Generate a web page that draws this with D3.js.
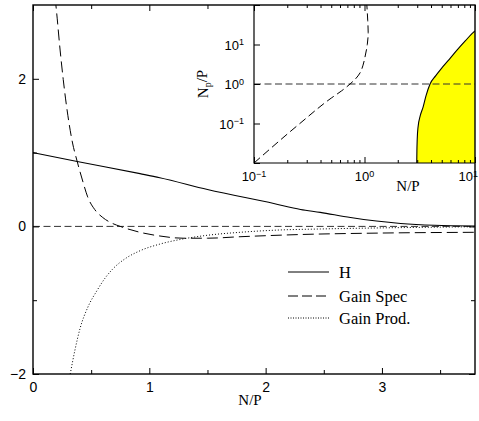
<!DOCTYPE html>
<html><head><meta charset="utf-8">
<script src="https://cdn.jsdelivr.net/npm/d3@7"></script>
<style>
html,body{margin:0;padding:0;background:#fff;}
svg{display:block;}
</style></head>
<body>
<script>
// ---------- data ----------
const mainXTicks = [0, 1, 2, 3];
const mainXMinor = [0.5, 1.5, 2.5, 3.5];
const mainYTicks = [-2, 0, 2];
const mainYTickLabels = ["\u22122", "0", "2"];
const mainYMinor = [-1, 1];

const hX = [0, 0.38, 0.92, 1.09, 1.5, 2.07, 2.3, 2.47, 2.73, 3.16, 3.45, 3.8];
const hY = [1.0, 0.88, 0.715, 0.66, 0.50, 0.31, 0.23, 0.19, 0.12, 0.04, 0.015, 0.005];

const specX = [0.19, 0.2, 0.233, 0.26, 0.3, 0.34, 0.38, 0.43, 0.47, 0.53, 0.6, 0.67, 0.75, 0.92, 1.09, 1.29, 1.5, 1.78, 2.3, 3.0, 3.8];
const specY = [3.1, 2.95, 2.39, 1.99, 1.5, 1.13, 0.88, 0.6, 0.4, 0.23, 0.12, 0.05, 0.0, -0.08, -0.13, -0.16, -0.16, -0.14, -0.11, -0.09, -0.08];

const prodX = [0.32, 0.36, 0.405, 0.47, 0.55, 0.62, 0.69, 0.8, 0.92, 1.09, 1.29, 1.5, 1.78, 2.1, 2.47, 3.0, 3.5, 3.8];
const prodY = [-2.0, -1.68, -1.38, -1.1, -0.87, -0.70, -0.57, -0.43, -0.33, -0.24, -0.17, -0.12, -0.08, -0.05, -0.035, -0.02, -0.01, -0.005];

const legendLabels = ["H", "Gain Spec", "Gain Prod."];

// inset (log-log)
const insetXTicks = [0.1, 1, 10];
const insetXTickExp = ["\u22121", "0", "1"];
const insetXMinor = [0.2,0.3,0.4,0.5,0.6,0.7,0.8,0.9,2,3,4,5,6,7,8,9];
const insetYTicks = [0.1, 1, 10];
const insetYTickExp = ["\u22121", "0", "1"];
const insetYMajorAll = [0.01, 0.1, 1, 10, 100];

const inSpecX = [0.1, 0.26, 0.5, 0.62, 0.74, 0.83, 0.91, 0.97, 1.01, 1.06, 1.08, 1.07, 1.05];
const inSpecY = [0.01, 0.1, 0.44, 0.67, 1.0, 1.35, 1.9, 3.0, 4.8, 10, 20, 40, 100];

const bndX = [2.97, 2.98, 3.0, 3.05, 3.2, 3.39, 3.6, 3.92, 4.4, 5.1, 6.0, 6.9, 8.2, 9.6, 10];
const bndY = [0.01, 0.02, 0.04, 0.08, 0.16, 0.26, 0.5, 1.0, 1.6, 2.7, 4.6, 7.3, 12.5, 20, 22];

// ---------- drawing ----------
const W = 479, H = 421;
const svg = d3.select("body").append("svg").attr("width", W).attr("height", H);
svg.append("rect").attr("width", W).attr("height", H).attr("fill", "#fff");

const L = 33, R = 475, T = 5, B = 374;
const x = d3.scaleLinear().domain([0, 3.8]).range([L, R]);
const y = d3.scaleLinear().domain([-2, 3]).range([B, T]);

const sans = "'Liberation Sans', Arial, Helvetica, sans-serif";
const serif = "'Liberation Serif', 'Times New Roman', serif";

svg.append("clipPath").attr("id", "mainclip").append("rect")
  .attr("x", L).attr("y", T).attr("width", R - L).attr("height", B - T);

const g = svg.append("g").attr("clip-path", "url(#mainclip)");

// zero line
g.append("line").attr("x1", x(0)).attr("x2", x(3.8)).attr("y1", y(0)).attr("y2", y(0))
  .attr("stroke", "#333").attr("stroke-width", 1).attr("stroke-dasharray", "7,3.5");

const line = d3.line().x(d => x(d[0])).y(d => y(d[1])).curve(d3.curveMonotoneX);
g.append("path").datum(hX.map((v, i) => [v, hY[i]])).attr("d", line)
  .attr("fill", "none").attr("stroke", "#000").attr("stroke-width", 1.1);
g.append("path").datum(specX.map((v, i) => [v, specY[i]])).attr("d", line)
  .attr("fill", "none").attr("stroke", "#000").attr("stroke-width", 1).attr("stroke-dasharray", "11,5");
g.append("path").datum(prodX.map((v, i) => [v, prodY[i]])).attr("d", line)
  .attr("fill", "none").attr("stroke", "#000").attr("stroke-width", 1).attr("stroke-dasharray", "1,2");

// main axes
const axB = svg.append("g").attr("transform", `translate(0,${B})`)
  .call(d3.axisBottom(x).tickValues(mainXTicks).tickSize(-6).tickPadding(8).tickFormat(d3.format("d")));
const axBm = svg.append("g").attr("transform", `translate(0,${B})`)
  .call(d3.axisBottom(x).tickValues(mainXMinor).tickSize(-4).tickFormat(""));
const axT = svg.append("g").attr("transform", `translate(0,${T})`)
  .call(d3.axisTop(x).tickValues(mainXTicks).tickSize(-6).tickFormat(""));
const axTm = svg.append("g").attr("transform", `translate(0,${T})`)
  .call(d3.axisTop(x).tickValues(mainXMinor).tickSize(-4).tickFormat(""));
const axL = svg.append("g").attr("transform", `translate(${L},0)`)
  .call(d3.axisLeft(y).tickValues(mainYTicks).tickSize(-6).tickPadding(7)
    .tickFormat((d, i) => mainYTickLabels[i]));
const axLm = svg.append("g").attr("transform", `translate(${L},0)`)
  .call(d3.axisLeft(y).tickValues(mainYMinor).tickSize(-4).tickFormat(""));
const axR = svg.append("g").attr("transform", `translate(${R},0)`)
  .call(d3.axisRight(y).tickValues(mainYTicks).tickSize(-6).tickFormat(""));
const axRm = svg.append("g").attr("transform", `translate(${R},0)`)
  .call(d3.axisRight(y).tickValues(mainYMinor).tickSize(-4).tickFormat(""));
[axB, axBm, axT, axTm, axL, axLm, axR, axRm].forEach(a => {
  a.select(".domain").remove();
  a.selectAll("line").attr("stroke", "#000").attr("stroke-width", 1);
  a.selectAll("text").attr("font-family", sans).attr("font-size", 14).attr("fill", "#000");
});

svg.append("text").attr("x", 250).attr("y", 405).attr("text-anchor", "middle")
  .attr("font-family", serif).attr("font-size", 15).text("N/P");

// legend
const legY = [272, 296, 318];
const legDash = [null, "10,4", "1,1.5"];
legendLabels.forEach((lab, i) => {
  svg.append("line").attr("x1", 288).attr("x2", 329).attr("y1", legY[i]).attr("y2", legY[i])
    .attr("stroke", "#000").attr("stroke-width", 1).attr("stroke-dasharray", legDash[i]);
  svg.append("text").attr("x", 339).attr("y", legY[i] + 5.5)
    .attr("font-family", serif).attr("font-size", 16.5).text(lab);
});

// ---------- inset ----------
const IL = 254, IR = 475, IT = 5, IB = 163;
const xi = d3.scaleLog().domain([0.1, 10]).range([IL, IR]);
const yi = d3.scaleLog().domain([0.01, 100]).range([IB, IT]);

svg.append("rect").attr("x", IL).attr("y", IT).attr("width", IR - IL).attr("height", IB - IT)
  .attr("fill", "#fff");

svg.append("clipPath").attr("id", "inclip").append("rect")
  .attr("x", IL).attr("y", IT).attr("width", IR - IL).attr("height", IB - IT);
const gi = svg.append("g").attr("clip-path", "url(#inclip)");

const bnd = bndX.map((v, i) => [v, bndY[i]]);
gi.append("path").datum(bnd)
  .attr("d", d3.area().x(d => xi(d[0])).y0(IB).y1(d => yi(d[1])).curve(d3.curveMonotoneX))
  .attr("fill", "#ffff00").attr("stroke", "none");
gi.append("path").datum(bnd)
  .attr("d", d3.line().x(d => xi(d[0])).y(d => yi(d[1])).curve(d3.curveMonotoneX))
  .attr("fill", "none").attr("stroke", "#000").attr("stroke-width", 1.1);

gi.append("line").attr("x1", IL).attr("x2", IR).attr("y1", yi(1)).attr("y2", yi(1))
  .attr("stroke", "#333").attr("stroke-width", 1).attr("stroke-dasharray", "7,3.5");

gi.append("path").datum(inSpecX.map((v, i) => [v, inSpecY[i]]))
  .attr("d", d3.line().x(d => xi(d[0])).y(d => yi(d[1])).curve(d3.curveMonotoneY))
  .attr("fill", "none").attr("stroke", "#000").attr("stroke-width", 1).attr("stroke-dasharray", "8,4");

// inset ticks
const ia = [];
ia.push(svg.append("g").attr("transform", `translate(0,${IB})`)
  .call(d3.axisBottom(xi).tickValues(insetXTicks).tickSize(-6).tickFormat("")));
ia.push(svg.append("g").attr("transform", `translate(0,${IB})`)
  .call(d3.axisBottom(xi).tickValues(insetXMinor).tickSize(-3).tickFormat("")));
ia.push(svg.append("g").attr("transform", `translate(0,${IT})`)
  .call(d3.axisTop(xi).tickValues(insetXTicks).tickSize(-6).tickFormat("")));
ia.push(svg.append("g").attr("transform", `translate(0,${IT})`)
  .call(d3.axisTop(xi).tickValues(insetXMinor).tickSize(-3).tickFormat("")));
ia.push(svg.append("g").attr("transform", `translate(${IL},0)`)
  .call(d3.axisLeft(yi).tickValues(insetYMajorAll).tickSize(-6).tickFormat("")));
ia.forEach(a => {
  a.select(".domain").remove();
  a.selectAll("line").attr("stroke", "#000").attr("stroke-width", 1);
});

// inset tick labels with superscripts
insetXTicks.forEach((v, i) => {
  const last = i === insetXTicks.length - 1;
  const t = svg.append("text").attr("x", last ? 478 : xi(v)).attr("y", 181)
    .attr("text-anchor", last ? "end" : "middle")
    .attr("font-family", sans).attr("font-size", 13);
  t.append("tspan").text("10");
  t.append("tspan").attr("dy", "-0.45em").attr("font-size", 9).text(insetXTickExp[i]);
});
insetYTicks.forEach((v, i) => {
  const t = svg.append("text").attr("x", 244).attr("y", yi(v) + 5).attr("text-anchor", "end")
    .attr("font-family", sans).attr("font-size", 13);
  t.append("tspan").text("10");
  t.append("tspan").attr("dy", "-0.45em").attr("font-size", 9).text(insetYTickExp[i]);
});

svg.append("text").attr("x", 408).attr("y", 191).attr("text-anchor", "middle")
  .attr("font-family", serif).attr("font-size", 15).text("N/P");

const yl = svg.append("text").attr("transform", "translate(208,84) rotate(-90)")
  .attr("text-anchor", "middle").attr("font-family", serif).attr("font-size", 15);
yl.append("tspan").text("N");
yl.append("tspan").attr("dy", "0.3em").attr("font-size", 10).text("p");
yl.append("tspan").attr("dy", "-0.3em").text("/P");

// inset frame
svg.append("path").attr("d", `M${IL},${IT}V${IB}H${IR}`)
  .attr("fill", "none").attr("stroke", "#000").attr("stroke-width", 1.2);

// main frame
svg.append("rect").attr("x", L).attr("y", T).attr("width", R - L).attr("height", B - T)
  .attr("fill", "none").attr("stroke", "#000").attr("stroke-width", 1.4);
</script>
</body></html>
